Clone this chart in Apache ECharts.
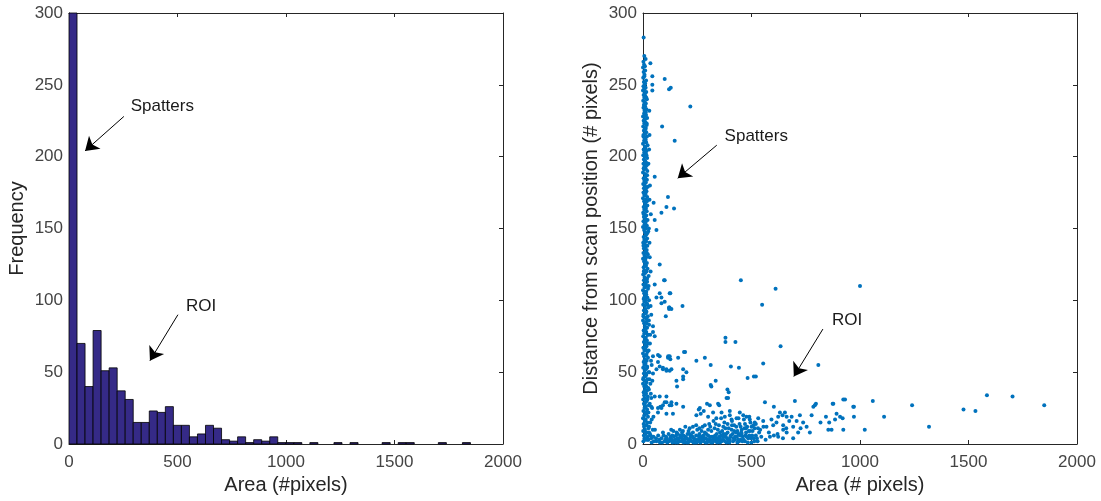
<!DOCTYPE html>
<html lang="en">
<head>
	<meta charset="UTF-8">
	<title>Area histogram and scatter</title>
	<style>
		html, body { margin: 0; padding: 0; background: #fff; }
		#main { width: 1101px; height: 501px; }
	</style>
</head>
<body>
	<div id="main"></div>
	<script src="https://cdn.jsdelivr.net/npm/echarts@6/dist/echarts.min.js"></script>
	<script>
		// histogram: 50 bins of width 37 starting at 0
		var binWidth = 37;
		var histCounts = [410, 70, 40, 79, 51, 53, 37, 31, 15, 15,
			23, 22, 26, 13, 13, 5, 7, 13, 11, 3,
			2, 5, 1, 3, 2, 5, 1, 1, 1, 0,
			1, 0, 0, 1, 0, 1, 0, 0, 0, 1,
			0, 1, 1, 0, 0, 0, 1, 0, 0, 1];

		var xTicks = [0, 500, 1000, 1500, 2000];
		var yTicks = [0, 50, 100, 150, 200, 250, 300];

		// scatter: dense column of small objects (spatters)
		var spatterCol = [
			[2,2],[14,3],[7,4],[21,5],[4,6],[11,7],[18,8],[1,9],[9,10],[25,11],
			[5,12],[15,13],[3,14],[20,15],[8,16],[12,17],[0,18],[23,19],[6,20],[16,21],
			[10,22],[2,23],[19,24],[7,25],[13,26],[27,27],[4,28],[11,29],[17,30],[1,31],
			[8,32],[22,33],[5,34],[14,35],[3,36],[18,37],[9,38],[24,39],[6,40],[12,41],
			[0,42],[16,43],[7,44],[21,45],[2,46],[10,47],[15,48],[4,49],[26,50],[8,51],
			[13,52],[1,53],[19,54],[6,55],[11,56],[3,57],[17,58],[9,59],[23,60],[5,61],
			[14,62],[0,63],[20,64],[7,65],[12,66],[2,67],[16,68],[10,69],[25,70],[4,71],
			[18,72],[8,73],[13,74],[1,75],[21,76],[6,77],[15,78],[3,79],[11,80],[19,81],
			[9,82],[28,83],[5,84],[14,85],[0,86],[17,87],[7,88],[22,89],[2,90],[12,91],
			[16,92],[4,93],[10,94],[24,95],[8,96],[1,97],[18,98],[6,99],[13,100],[3,101],
			[20,102],[9,103],[15,104],[5,105],[11,106],[0,107],[23,108],[7,109],[17,110],[2,111],
			[12,112],[19,113],[4,114],[14,115],[8,116],[26,117],[1,118],[10,119],[16,120],[6,121],
			[21,122],[3,123],[13,124],[9,125],[18,126],[5,127],[11,128],[0,129],[15,130],[7,131],
			[22,132],[2,133],[12,134],[17,135],[4,136],[10,137],[20,138],[8,139],[1,140],[14,141],
			[6,142],[19,143],[3,144],[11,145],[16,146],[9,147],[24,148],[5,149],[13,150],[0,151],
			[18,152],[7,153],[12,154],[2,155],[21,156],[10,157],[4,158],[15,159],[8,160],[1,161],
			[17,162],[6,163],[13,164],[3,165],[20,166],[9,167],[11,168],[5,169],[14,170],[0,171],
			[19,172],[7,173],[12,174],[2,175],[16,176],[10,177],[4,178],[22,179],[8,180],[1,181],
			[13,182],[6,183],[18,184],[3,185],[11,186],[15,187],[9,188],[0,189],[20,190],[5,191],
			[12,192],[7,193],[17,194],[2,195],[14,196],[10,197],[4,198],[19,199],[8,200],[1,201],
			[13,202],[6,203],[16,204],[3,205],[11,206],[9,207],[21,208],[0,209],[14,210],[5,211],
			[12,212],[7,213],[18,214],[2,215],[10,216],[15,217],[4,218],[8,219],[13,220],[1,221],
			[17,222],[6,223],[11,224],[3,225],[9,226],[19,227],[0,228],[14,229],[5,230],[12,231],
			[7,232],[16,233],[2,234],[10,235],[4,236],[13,237],[8,238],[1,239],[18,240],[6,241],
			[11,242],[3,243],[9,244],[15,245],[0,246],[5,247],[12,248],[2,249],[8,250],[4,252],
			[14,253],[1,255],[7,257],[3,259],[10,260],[0,262],[5,264],[2,266],[12,268],[6,270],
			[12,4],[6,9],[17,13],[3,18],[14,22],[9,27],[20,31],[5,36],[15,40],[1,45],
			[11,49],[19,53],[7,58],[16,62],[3,67],[13,71],[22,76],[8,80],[17,84],[2,89],
			[12,93],[20,97],[6,102],[15,106],[10,111],[19,115],[4,120],[13,124],[8,129],[17,133],
			[2,138],[11,142],[21,147],[7,151],[15,156],[4,160],[12,165],[18,169],[6,174],[14,178],
			[9,183],[19,187],[3,192],[11,196],[16,201],[7,205],[13,210],[2,214],[10,219],[17,223],
			[5,228],[12,232],[8,237],[15,241],[3,246],[10,251],[6,256],[9,263]
		];

		// points spilling just right of the column
		var spillPts = [
			[100,114],[77,105],[126,105],[62,102],[85,98],[120,95],[122,95],[105,89],[46,82],[46,78],
			[54,75],[77,61],[46,61],[69,57],[116,61],[126,59],[194,64],[185,52],[92,52],[108,52],
			[131,52],[46,49],[43,44],[154,44],[185,47],[54,33],[77,33],[108,33],[131,29],[92,27],
			[154,28],[69,22],[138,21],[108,21],[48,19],[30,140],[35,120],[28,100],[38,90],[32,70],
			[40,55],[30,45],[36,35],[42,25],[33,15],[45,10],[28,8],[38,4],[50,2],[30,215],
			[32,180],[36,160],[29,232],
			[22,3],[35,6],[28,12],[40,17],[25,22],[31,28],[38,32],[27,38],[34,42],[29,50],
			[37,58],[26,65],[33,76],[27,86],[35,96],[26,110],[31,130],[27,150],[30,170],[25,195],
			[28,205]
		];

		// low band of larger objects (region of interest)
		var roiPts = [
			[25,3],[32,7],[40,1],[48,5],[55,10],[62,2],[70,6],[78,1],[85,4],[92,8],
			[100,2],[106,5],[112,1],[118,7],[125,3],[130,10],[136,1],[142,5],[148,3],[155,8],
			[160,1],[166,4],[172,6],[178,2],[184,9],[190,3],[195,5],[200,1],[205,7],[210,3],
			[215,11],[220,5],[225,2],[230,8],[235,4],[240,1],[245,6],[250,10],[255,3],[260,7],
			[265,1],[270,5],[275,12],[280,2],[285,8],[290,4],[295,1],[300,6],[305,14],[310,3],
			[315,9],[320,1],[325,5],[330,11],[335,2],[340,7],[345,4],[350,13],[355,1],[360,6],
			[365,9],[370,3],[375,15],[380,5],[385,1],[390,8],[395,11],[400,3],[405,6],[410,16],
			[415,2],[420,9],[425,5],[430,12],[435,1],[440,7],[445,14],[450,3],[455,10],[460,5],
			[465,17],[470,2],[475,8],[480,12],[485,4],[490,6],[495,15],[500,1],[505,9],[510,4],
			[515,11],[520,6],[528,2],[535,8],[545,5],[555,12],[565,3],
			[110,4],[120,2],[135,6],[150,1],[162,3],[175,5],[188,1],[198,4],[212,2],[222,6],
			[238,3],[248,1],[258,5],[268,2],[282,4],[292,7],[302,2],[318,5],[328,3],[342,1],
			[352,5],[362,2],[372,7],[388,4],[398,1],[408,10],[418,4],[428,8],[438,3],[448,6],
			[458,2],[468,11],[478,5],[488,9],[498,4],[508,13],[140,9],[170,10],[195,12],[215,7],
			[245,13],[270,9],[300,10],[325,16],[345,10],[360,18],[380,11],[400,20],[420,13],[440,18],
			[455,7],[470,14],[490,19],[520,14],[540,10],[580,8],[600,13],[620,7],[645,4],[660,11],
			[315,40],[395,36],[385,32],[295,28],[346,28],[257,24],[123,27],[100,29],[69,25],[85,25],
			[246,20],[266,21],[280,23],[300,19],[323,22],[338,18],[362,22],[377,19],[400,23],[408,17],
			[431,18],[446,22],[462,20],[477,19],[492,17],[515,15],[531,18],[554,16],[569,12],[592,17],
			[615,15],[623,19],[631,22],[643,20],[654,22],[662,19],[674,16],[685,19],[692,12],[708,16],
			[723,20],[738,15],[777,20],[785,26],[797,28],[818,15],[843,19],[858,15],[874,28],[885,17],
			[892,21],[908,19],[923,31],[920,18],[854,10],[869,10],[923,10],[969,26],[585,5],[603,6],
			[623,5],[646,10],[662,8],[692,4],[715,8],[726,11],[754,12],[769,8],[646,13],
			[60,4],[75,3],[88,1],[95,6],[103,3],[115,2],[127,5],[133,3],[145,2],[152,6],
			[158,4],[168,2],[180,4],[186,6],[193,2],[203,4],[208,1],[218,3],[228,5],[233,1],
			[243,3],[253,2],[263,4],[273,3],[278,6],[288,1],[298,3],[308,5],[313,1],[323,3],
			[333,6],[338,4],[348,2],[358,3],[368,5],[378,2],[383,7],[393,3],[403,5],[413,7],
			[423,3],[433,5],[443,2],[453,8],[463,3],[473,6],[483,1],[493,9],[503,6],[513,2],
			[525,4],[160,7],[180,8],[210,9],[230,12],[260,11],[285,13],[310,12],[335,14],[355,8],
			[370,12],[390,14],[410,13],[435,9],[450,12],[475,11],[500,12],[530,11]
		];

		// isolated points
		var strayPts = [
			[3,283],[34,265],[43,256],[43,250],[43,246],[100,254],[120,247],[128,248],[218,235],[88,221],
			[146,211],[54,186],[115,172],[143,164],[49,168],[85,161],[108,165],[54,156],[62,149],[77,125],
			[97,114],[54,111],[123,105],[85,102],[100,99],[120,94],[131,94],[182,96],[451,114],[611,108],
			[549,97],[380,74],[426,71],[380,71],[634,68],[554,56],[808,55],[405,54],[442,53],[246,58],
			[285,60],[189,64],[162,60],[123,61],[69,62],[482,46],[511,47],[520,47],[312,55],[335,44],
			[312,41],[157,40],[185,45],[200,50],[92,53],[108,51],[77,54],[62,52],[123,51],[115,60],
			[389,38],[392,32],[562,29],[603,26],[700,30],[308,27],[351,27],[262,25],[185,26],[80,26],
			[108,29],[131,27],[38,26],[792,27],[877,28],[931,31],[972,26],[1000,110],[972,19],[1059,30],
			[1111,19],[1022,10],[1240,27],[1318,12],[1477,24],[1532,23],[1585,34],[1703,33],[1849,27]
		];

		var histData = histCounts.map(function (c, i) {
			return [i * binWidth, (i + 1) * binWidth, c];
		});
		var scatterData = spatterCol.concat(spillPts, roiPts, strayPts);

		var FONT = '"Liberation Sans", Arial, Helvetica, sans-serif';
		var AX = '#262626';
		function plain(v) { return String(v); }

		function xAx(grid, bottom, name) {
			return {
				type: 'value', gridIndex: grid, position: bottom ? 'bottom' : 'top',
				min: xTicks[0], max: xTicks[xTicks.length - 1], interval: 500,
				name: bottom ? name : '', nameLocation: 'middle', nameGap: 30,
				nameTextStyle: { fontFamily: FONT, fontSize: 20, color: AX },
				axisLine: { show: true, onZero: false, lineStyle: { color: AX, width: 1 } },
				axisTick: { show: true, inside: true, length: 4, lineStyle: { color: AX } },
				axisLabel: { show: bottom, formatter: plain, fontFamily: FONT, fontSize: 17, color: '#444', margin: 10 },
				splitLine: { show: false }
			};
		}
		function yAx(grid, left, name) {
			return {
				type: 'value', gridIndex: grid, position: left ? 'left' : 'right',
				min: yTicks[0], max: yTicks[yTicks.length - 1], interval: 50,
				name: left ? name : '', nameLocation: 'middle', nameGap: 42, nameRotate: 90,
				nameTextStyle: { fontFamily: FONT, fontSize: 20, color: AX },
				axisLine: { show: true, onZero: false, lineStyle: { color: AX, width: 1 } },
				axisTick: { show: true, inside: true, length: 4, lineStyle: { color: AX } },
				axisLabel: { show: left, formatter: plain, fontFamily: FONT, fontSize: 17, color: '#444', margin: 6 },
				splitLine: { show: false }
			};
		}

		function arrow(from, to) {
			return [{ coord: from }, { coord: to }];
		}
		function note(at, text) {
			return {
				coord: at, symbol: 'circle', symbolSize: 0,
				label: { show: true, position: 'right', distance: 0, formatter: text,
					fontFamily: FONT, fontSize: 17, color: '#1a1a1a' }
			};
		}
		var markLineStyle = {
			silent: true, symbol: ['none', 'arrow'], symbolSize: 13,
			lineStyle: { color: '#000', width: 1, type: 'solid' },
			label: { show: false }, emphasis: { disabled: true }
		};

		var myChart = echarts.init(document.getElementById('main'), null, { renderer: 'canvas' });

		myChart.setOption({
			animation: false,
			backgroundColor: '#fff',
			grid: [
				{ left: 69, top: 13, width: 434, height: 431 },
				{ left: 643, top: 13, width: 434, height: 431 }
			],
			xAxis: [
				xAx(0, true, 'Area (#pixels)'), xAx(0, false),
				xAx(1, true, 'Area (# pixels)'), xAx(1, false)
			],
			yAxis: [
				yAx(0, true, 'Frequency'), yAx(0, false),
				yAx(1, true, 'Distance from scan position (# pixels)'), yAx(1, false)
			],
			series: [
				{
					name: 'hist', type: 'custom', xAxisIndex: 0, yAxisIndex: 0,
					data: histData,
					encode: { x: [0, 1], y: 2 },
					renderItem: function (params, api) {
						var p0 = api.coord([api.value(0), api.value(2)]);
						var p1 = api.coord([api.value(1), 0]);
						var rect = echarts.graphic.clipRectByRect({
							x: p0[0], y: p0[1], width: p1[0] - p0[0], height: p1[1] - p0[1]
						}, params.coordSys);
						if (!rect || api.value(2) === 0) return null;
						return {
							type: 'rect', shape: rect,
							style: { fill: '#352a87', stroke: '#000', lineWidth: 0.8 }
						};
					}
				},
				{
					name: 'area-distance', type: 'scatter', xAxisIndex: 2, yAxisIndex: 2,
					data: scatterData, symbol: 'circle', symbolSize: 4,
					itemStyle: { color: '#0072bd', opacity: 1 }, silent: true
				},
				{
					name: 'notesLeft', type: 'line', xAxisIndex: 0, yAxisIndex: 0, data: [],
					markLine: Object.assign({ data: [
						arrow([253, 228], [74, 204]),
						arrow([502, 90], [373, 58])
					] }, markLineStyle),
					markPoint: { silent: true, data: [note([284, 235], 'Spatters'), note([539, 96], 'ROI')] }
				},
				{
					name: 'notesRight', type: 'line', xAxisIndex: 2, yAxisIndex: 2, data: [],
					markLine: Object.assign({ data: [
						arrow([340, 208], [160, 185]),
						arrow([829, 80], [695, 47])
					] }, markLineStyle),
					markPoint: { silent: true, data: [note([376, 214], 'Spatters'), note([871, 86], 'ROI')] }
				}
			]
		});
	</script>
</body>
</html>
